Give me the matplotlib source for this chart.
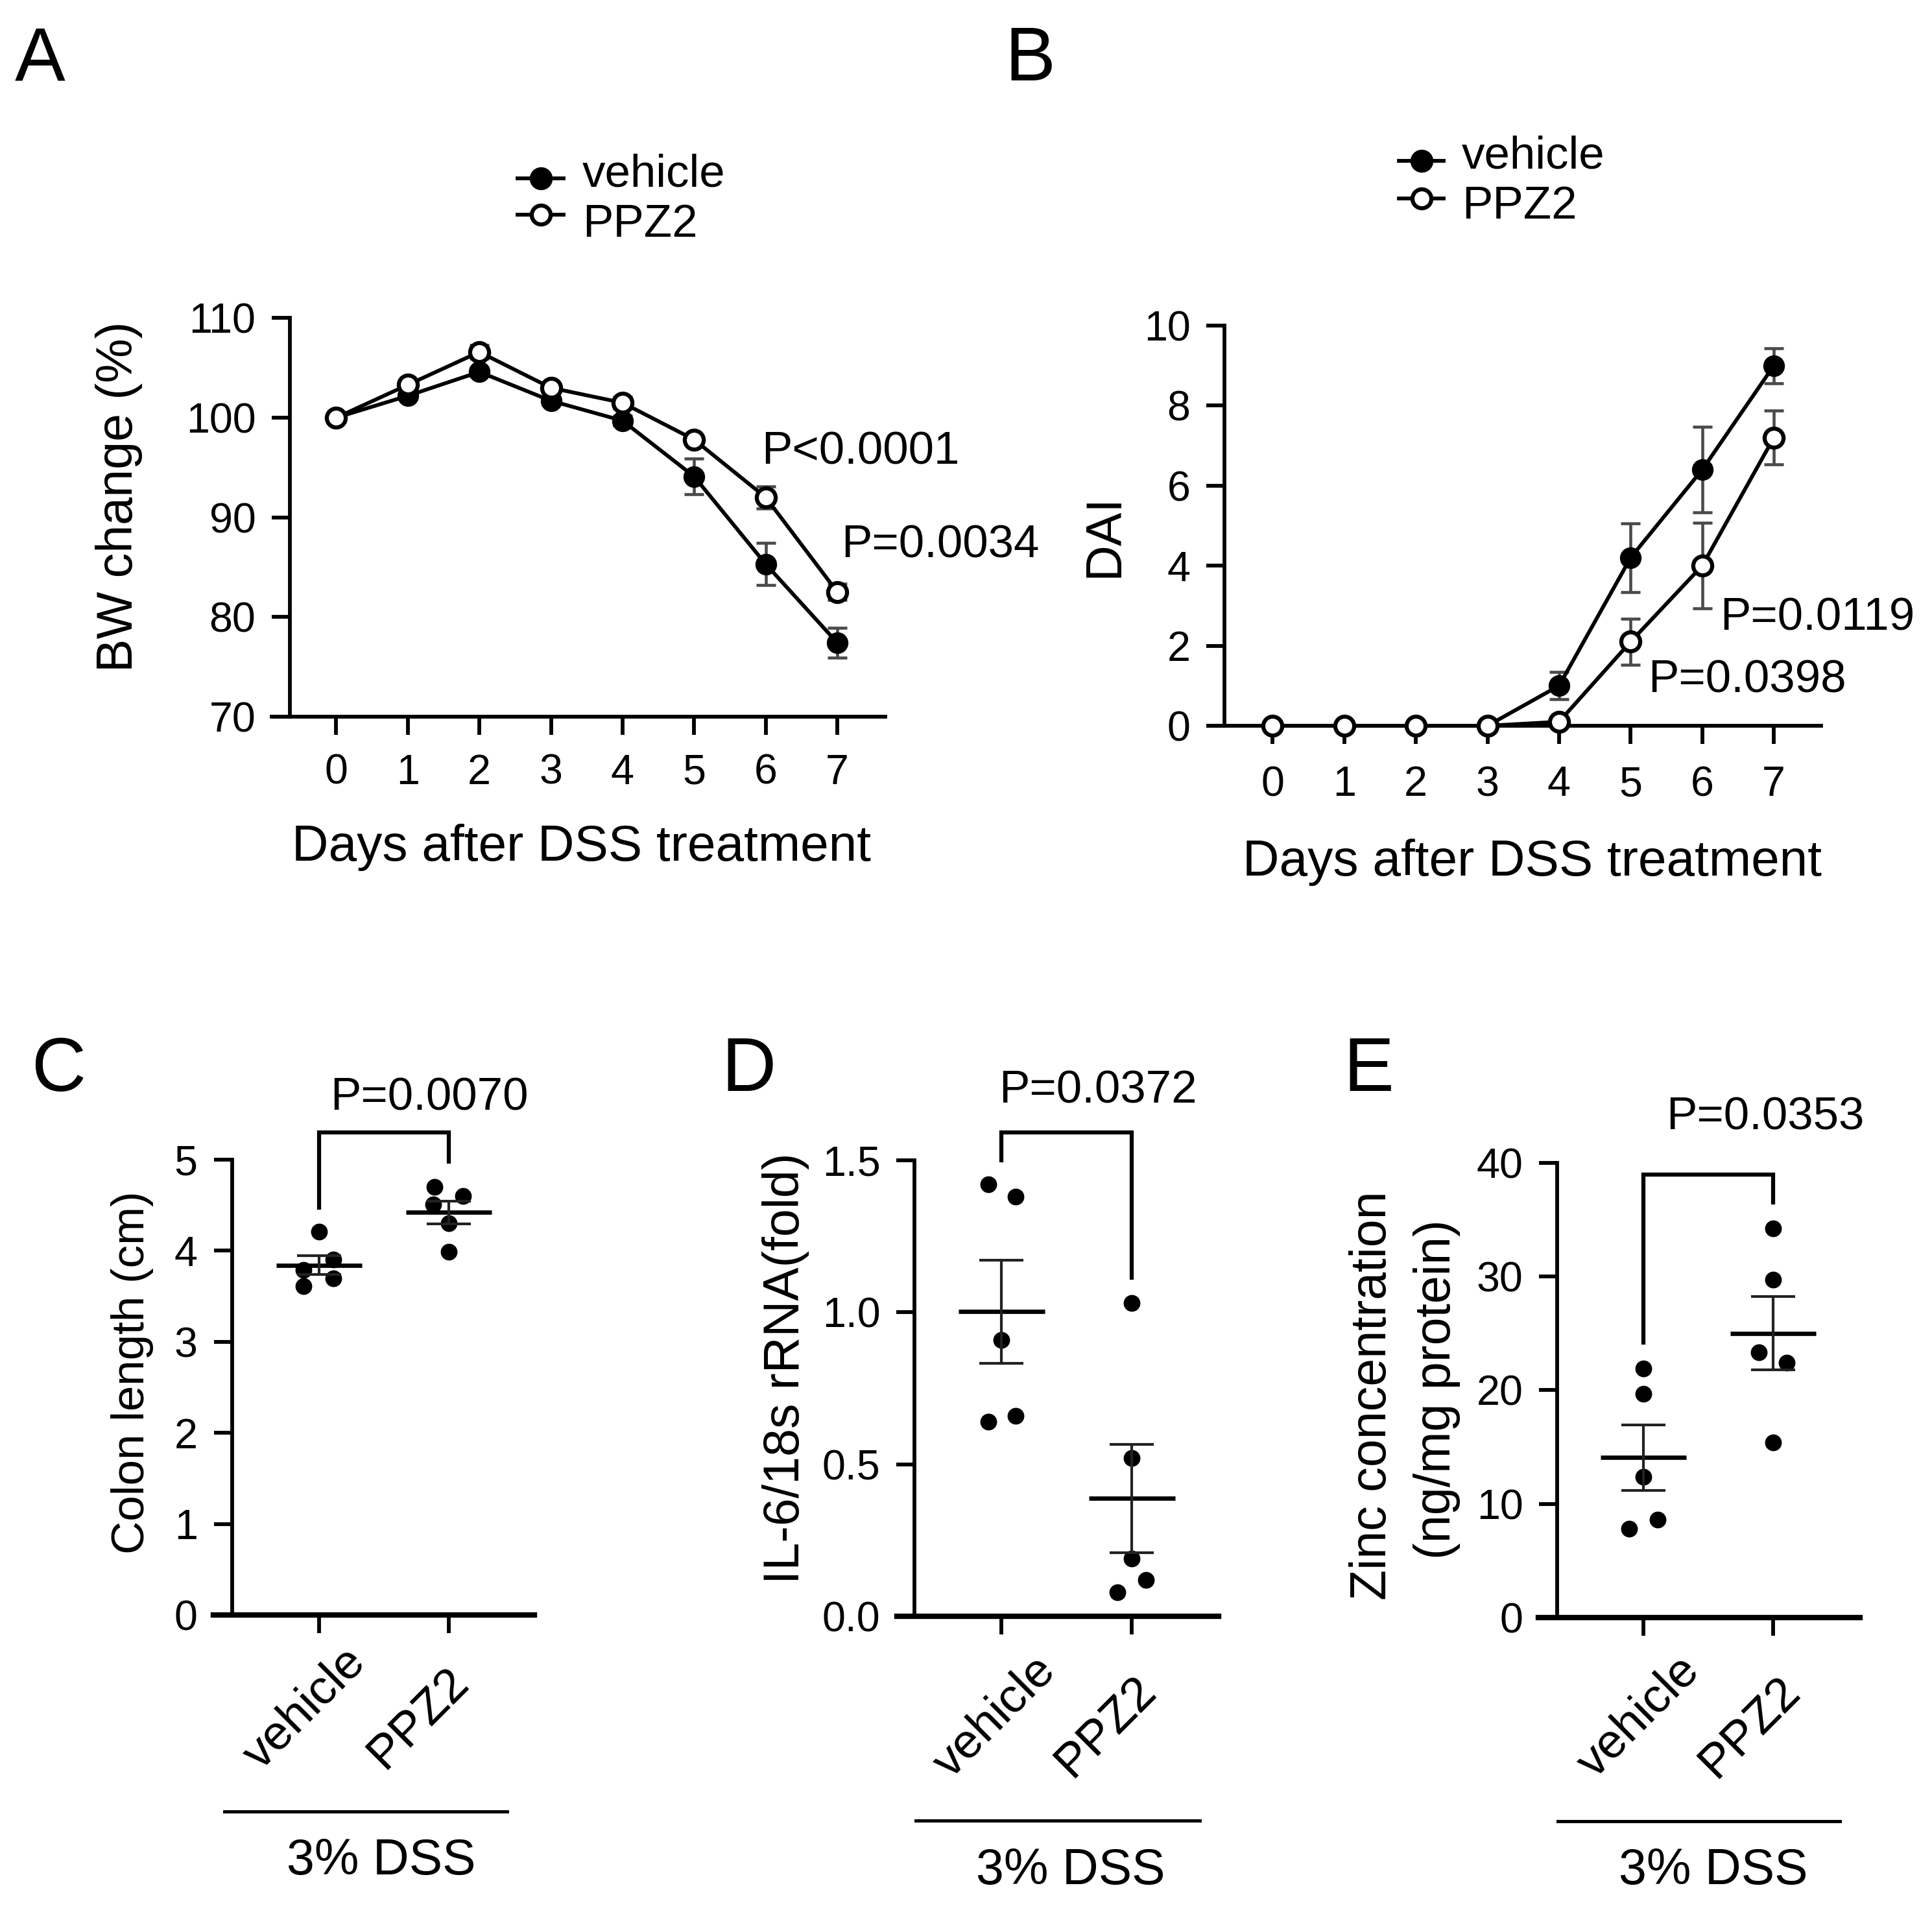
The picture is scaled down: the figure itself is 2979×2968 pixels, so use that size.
import numpy as np
import matplotlib
matplotlib.use("Agg")
import matplotlib.pyplot as plt
from matplotlib.lines import Line2D
from matplotlib.transforms import ScaledTranslation

plt.rcParams["font.family"] = ["Liberation Sans", "DejaVu Sans"]

# ─── Data ────────────────────────────────────────────────────────────────────
DAYS = [0, 1, 2, 3, 4, 5, 6, 7]

BW_VEHICLE     = [100, 102.2, 104.6, 101.7, 99.7, 94.1, 85.3, 77.4]
BW_VEHICLE_ERR = [0, 0.3, 0.4, 0.4, 0.5, 1.8, 2.1, 1.5]
BW_PPZ2        = [100, 103.3, 106.6, 103.0, 101.5, 97.8, 92.0, 82.5]
BW_PPZ2_ERR    = [0, 0.3, 0.7, 0.4, 0.6, 0.4, 1.1, 0.8]

DAI_VEHICLE     = [0, 0, 0, 0, 1.0, 4.2, 6.4, 9.0]
DAI_VEHICLE_ERR = [0, 0, 0, 0, 0.34, 0.86, 1.07, 0.44]
DAI_PPZ2        = [0, 0, 0, 0, 0.1, 2.1, 4.0, 7.2]
DAI_PPZ2_ERR    = [0, 0, 0, 0, 0.05, 0.58, 1.07, 0.67]

GROUPS = ["vehicle", "PPZ2"]

COLON_VEHICLE = [4.21, 3.90, 3.79, 3.70, 3.61]
COLON_PPZ2    = [4.70, 4.60, 4.51, 4.30, 3.99]
IL6_VEHICLE   = [1.42, 1.38, 0.91, 0.64, 0.66]
IL6_PPZ2      = [1.03, 0.52, 0.19, 0.12, 0.08]
ZINC_VEHICLE  = [21.9, 19.7, 12.4, 7.8, 8.6]
ZINC_PPZ2     = [34.2, 29.7, 23.3, 22.4, 15.4]

# horizontal scatter of the dots (category units)
COLON_JITTER = [[0, 0.11, -0.12, 0.11, -0.12], [-0.11, 0.11, -0.12, 0, 0]]
IL6_JITTER   = [[-0.10, 0.11, 0, -0.10, 0.11], [0, 0, 0, 0.11, -0.11]]
ZINC_JITTER  = [[0, 0, 0, -0.11, 0.11], [0, 0, -0.11, 0.105, 0]]

# bracket: (top, left leg end, right leg end)
COLON_BRACKET = (5.30, 4.47, 4.98)
IL6_BRACKET   = (1.592, 1.50, 1.114)
ZINC_BRACKET  = (38.96, 24.2, 36.5)

# ─── Layout helpers (pixel coords of a 2979x2968 canvas) ──────────────────────
W, H, DPI = 2979, 2968, 300
fig = plt.figure(figsize=(W / DPI, H / DPI), dpi=DPI)


def fx(px):
    return px / W


def fy(py):
    return 1 - py / H


def box(l, t, r, b):
    return [fx(l), fy(b), (r - l) / W, (b - t) / H]


def px_off(dx, dy):
    return ScaledTranslation(dx / DPI, -dy / DPI, fig.dpi_scale_trans)


def style_axes(ax, spine_x, xlim, ylim, yticks, bottom_lw=1.4):
    ax.set_xlim(*xlim)
    ax.set_ylim(*ylim)
    ax.set_yticks(yticks)
    for s in ("top", "right"):
        ax.spines[s].set_visible(False)
    ax.spines["left"].set_position(("data", spine_x))
    ax.spines["left"].set_linewidth(1.4)
    ax.spines["bottom"].set_linewidth(bottom_lw)
    ax.tick_params(direction="out", length=6.7, width=1.4,
                   labelsize=15.5, pad=6)
    ax.patch.set_visible(False)


# ═════════════════════════════════════════════════════════════════════════════
# A, B — time courses
# ═════════════════════════════════════════════════════════════════════════════
def line_panel(ax, veh, veh_err, ppz, ppz_err):
    ax.errorbar(DAYS, veh, yerr=veh_err, fmt="none", ecolor="#4a4a4a",
                elinewidth=1.1, capsize=3.5, capthick=1.1, zorder=2)
    ax.errorbar(DAYS, ppz, yerr=ppz_err, fmt="none", ecolor="#4a4a4a",
                elinewidth=1.1, capsize=3.5, capthick=1.1, zorder=2)
    ax.plot(DAYS, veh, "-o", color="black", mfc="black", mec="black",
            ms=7, lw=1.4, zorder=4, clip_on=False)
    ax.plot(DAYS, ppz, "-o", color="black", mfc="white", mec="black",
            mew=1.5, ms=7, lw=1.4, zorder=5, clip_on=False)
    ax.set_xticks(DAYS)


def legend_rows(x0, x1, xt, rows):
    for y_line, y_base, label, face in rows:
        fig.add_artist(Line2D([fx(x0), fx(x1)], [fy(y_line)] * 2,
                              transform=fig.transFigure, color="black", lw=1.4))
        fig.add_artist(Line2D([fx((x0 + x1) / 2)], [fy(y_line)], marker="o",
                              ms=7, mfc=face, mec="black", mew=1.5,
                              transform=fig.transFigure))
        fig.text(fx(xt), fy(y_base), label, fontsize=17, va="baseline")


axA = fig.add_axes(box(419, 490.5, 1365, 1104.6))
line_panel(axA, BW_VEHICLE, BW_VEHICLE_ERR, BW_PPZ2, BW_PPZ2_ERR)
style_axes(axA, -0.643, (-0.9, 7.67), (70, 110), [70, 80, 90, 100, 110])
axA.tick_params(axis="x", pad=7)

axB = fig.add_axes(box(1863, 502, 2808, 1119))
line_panel(axB, DAI_VEHICLE, DAI_VEHICLE_ERR, DAI_PPZ2, DAI_PPZ2_ERR)
style_axes(axB, -0.67, (-0.9, 7.66), (0, 10), [0, 2, 4, 6, 8, 10])
axB.tick_params(axis="x", pad=8)

legend_rows(798, 869, 898, [(275, 287, "vehicle", "black"),
                            (331, 365, "PPZ2", "white")])
legend_rows(2157, 2226, 2254, [(248, 259, "vehicle", "black"),
                               (305.5, 337, "PPZ2", "white")])

fig.text(fx(184), fy(766), "BW change (%)", fontsize=18.5, rotation=90,
         ha="center", va="center")
fig.text(fx(1703), fy(826), "DAI", fontsize=18.5, rotation=90,
         ha="center", va="center")
fig.text(fx(896), fy(1327), "Days after DSS treatment", fontsize=18.8,
         ha="center", va="baseline")
fig.text(fx(2362), fy(1350), "Days after DSS treatment", fontsize=18.8,
         ha="center", va="baseline")

fig.text(fx(1174), fy(716), "P<0.0001", fontsize=17, va="baseline")
fig.text(fx(1297), fy(859), "P=0.0034", fontsize=17, va="baseline")
fig.text(fx(2652), fy(972), "P=0.0119", fontsize=17, va="baseline")
fig.text(fx(2541), fy(1067), "P=0.0398", fontsize=17, va="baseline")

# ═════════════════════════════════════════════════════════════════════════════
# C, D, E — dot plots with mean ± SEM
# ═════════════════════════════════════════════════════════════════════════════
def dot_panel(ax, values, jitters, xlim, spine_x, ylim, yticks, ticklabels,
              bracket, label_offsets, dss_span, dss_line_dy, dss_x,
              dss_text_dy):
    for i, (vals, jit) in enumerate(zip(values, jitters)):
        vals = np.asarray(vals, dtype=float)
        ax.plot(i + np.asarray(jit), vals, "o", color="black", ms=5.2,
                zorder=3, clip_on=False)
        m = vals.mean()
        s = vals.std(ddof=1) / np.sqrt(len(vals))
        ax.hlines(m, i - 0.33, i + 0.33, color="black", lw=1.6, zorder=4)
        ax.vlines(i, m - s, m + s, color="#222222", lw=1.0, zorder=4)
        ax.hlines([m - s, m + s], i - 0.17, i + 0.17, color="#222222",
                  lw=1.0, zorder=4)

    top, left_end, right_end = bracket
    ax.plot([0, 0, 1, 1], [left_end, top, top, right_end], color="black",
            lw=1.5, clip_on=False, solid_joinstyle="miter")

    style_axes(ax, spine_x, xlim, ylim, yticks, bottom_lw=2.0)
    ax.set_yticklabels(ticklabels)
    ax.set_xticks([0, 1])
    ax.set_xticklabels([])

    xt = ax.get_xaxis_transform()
    for i, (name, (dx, dy)) in enumerate(zip(GROUPS, label_offsets)):
        ax.text(i, 0, name, fontsize=18, rotation=45, ha="center",
                va="center", transform=xt + px_off(dx, dy))
    ax.plot(dss_span, [0, 0], color="black", lw=1.2, clip_on=False,
            transform=xt + px_off(0, dss_line_dy))
    ax.text(dss_x, 0, "3% DSS", fontsize=18.5, ha="center", va="baseline",
            transform=xt + px_off(0, dss_text_dy))


axC = fig.add_axes(box(328.6, 1788, 824, 2490))
dot_panel(axC, [COLON_VEHICLE, COLON_PPZ2], COLON_JITTER,
          (-0.815, 1.66), -0.67, (0, 5),
          [0, 1, 2, 3, 4, 5], ["0", "1", "2", "3", "4", "5"],
          COLON_BRACKET, [(-22, 144), (-47, 159)],
          [-0.73, 1.45], 303, 0.48, 400)

axD = fig.add_axes(box(1383.4, 1789, 1879.3, 2492))
dot_panel(axD, [IL6_VEHICLE, IL6_PPZ2], IL6_JITTER,
          (-0.80, 1.667), -0.666, (0, 1.5),
          [0, 0.5, 1.0, 1.5], ["0.0", "0.5", "1.0", "1.5"],
          IL6_BRACKET, [(-10, 155), (-40, 170)],
          [-0.66, 1.52], 315, 0.53, 413)

axE = fig.add_axes(box(2371.5, 1792.7, 2868, 2494))
dot_panel(axE, [ZINC_VEHICLE, ZINC_PPZ2], ZINC_JITTER,
          (-0.811, 1.667), -0.662, (0, 40),
          [0, 10, 20, 30, 40], ["0", "10", "20", "30", "40"],
          ZINC_BRACKET, [(-7, 153), (-36, 169)],
          [-0.66, 1.51], 314, 0.54, 411)

fig.text(fx(204), fy(2116), "Colon length (cm)", fontsize=17, rotation=90,
         ha="center", va="center")
fig.text(fx(1212), fy(2110), "IL-6/18s rRNA(fold)", fontsize=18.5,
         rotation=90, ha="center", va="center")
fig.text(fx(2116), fy(2152), "Zinc concentration", fontsize=18.5,
         rotation=90, ha="center", va="center")
fig.text(fx(2216), fy(2142), "(ng/mg protein)", fontsize=18.5,
         rotation=90, ha="center", va="center")

fig.text(fx(509), fy(1711), "P=0.0070", fontsize=17, va="baseline")
fig.text(fx(1540), fy(1700), "P=0.0372", fontsize=17, va="baseline")
fig.text(fx(2569), fy(1742), "P=0.0353", fontsize=17, va="baseline")

# ─── Panel letters ───────────────────────────────────────────────────────────
for letter, x, y in [("A", 23, 124), ("B", 1549, 124), ("C", 48, 1682),
                     ("D", 1112, 1682), ("E", 2071, 1682)]:
    fig.text(fx(x), fy(y), letter, fontsize=28, va="baseline")

fig.savefig("out.png", dpi=DPI)
print("saved out.png")
